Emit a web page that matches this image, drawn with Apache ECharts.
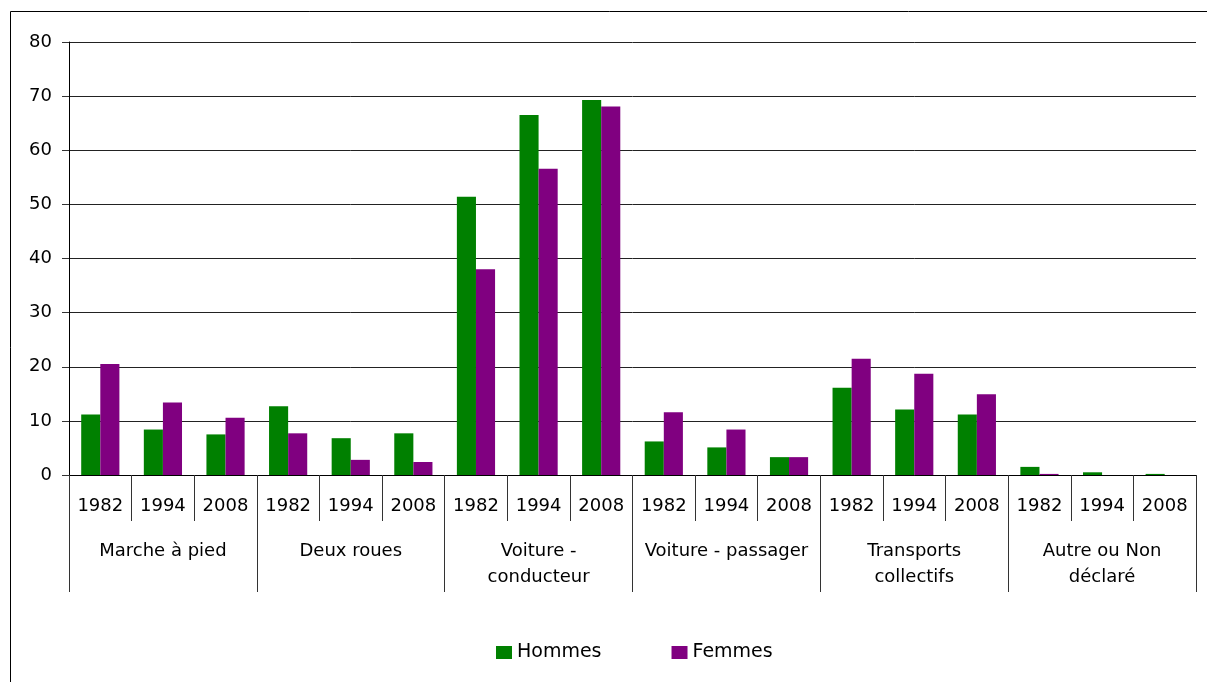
<!DOCTYPE html>
<html>
<head>
<meta charset="utf-8">
<script src="https://cdn.jsdelivr.net/npm/echarts@6/dist/echarts.min.js"></script>
<style>
  html, body { margin: 0; padding: 0; background: #fff; }
  #chart { width: 1207px; height: 682px; }
</style>
</head>
<body>
<div id="chart"></div>
<script>
// Modes de déplacement, par sexe et par année d'enquête (%)
const groups = ['Marche à pied', 'Deux roues', 'Voiture -\nconducteur', 'Voiture - passager', 'Transports\ncollectifs', 'Autre ou Non\ndéclaré'];
const years = ['1982', '1994', '2008'];
const yearLabels = groups.flatMap(() => years);

const hommes = [11.2, 8.4, 7.5, 12.7, 6.8, 7.7, 51.4, 66.5, 69.3, 6.2, 5.1, 3.3, 16.1, 12.1, 11.2, 1.5, 0.5, 0.2];
const femmes = [20.5, 13.4, 10.6, 7.7, 2.8, 2.4, 38.0, 56.6, 68.1, 11.6, 8.4, 3.3, 21.5, 18.7, 14.9, 0.2, 0, 0];

const yTicks = { min: 0, max: 80, interval: 10 };

const font = 'DejaVu Sans';
const chart = echarts.init(document.getElementById('chart'), null, { renderer: 'canvas' });

chart.setOption({
  animation: false,
  backgroundColor: '#fff',
  textStyle: { fontFamily: font, color: '#000' },
  graphic: [{
    type: 'rect',
    shape: { x: 10.5, y: 11.5, width: 1300, height: 700 },
    style: { fill: 'none', stroke: '#000', lineWidth: 1 },
    silent: true
  }],
  grid: { left: 69, right: 11, top: 42, bottom: 207, containLabel: false },
  legend: {
    left: 491,
    top: 638,
    itemWidth: 16,
    itemHeight: 13,
    itemGap: 70,
    icon: 'rect',
    textStyle: { fontFamily: font, fontSize: 19, color: '#000' },
    data: ['Hommes', 'Femmes']
  },
  xAxis: [{
    type: 'category',
    position: 'bottom',
    data: yearLabels,
    boundaryGap: true,
    axisLine: { show: true, lineStyle: { color: '#000', width: 1 } },
    axisTick: { show: true, interval: 0, length: 46, lineStyle: { color: '#333' } },
    axisLabel: { interval: 0, margin: 22, fontFamily: font, fontSize: 18, color: '#000' },
    splitLine: { show: false }
  }, {
    type: 'category',
    position: 'bottom',
    data: groups,
    boundaryGap: true,
    axisLine: { show: false },
    axisTick: { show: true, interval: 0, length: 117, lineStyle: { color: '#333' } },
    axisLabel: { interval: 0, margin: 63, fontFamily: font, fontSize: 18, lineHeight: 26, color: '#000', align: 'center' },
    splitLine: { show: false }
  }],
  yAxis: {
    type: 'value',
    min: yTicks.min,
    max: yTicks.max,
    interval: yTicks.interval,
    axisLine: { show: true, lineStyle: { color: '#000', width: 1 } },
    axisTick: { show: true, length: 7, lineStyle: { color: '#333' } },
    axisLabel: { margin: 17, fontFamily: font, fontSize: 18, color: '#000' },
    splitLine: { show: true, lineStyle: { color: '#222', width: 1 } }
  },
  series: [{
    name: 'Hommes',
    type: 'bar',
    xAxisIndex: 0,
    data: hommes,
    barGap: '0%',
    barCategoryGap: '39%',
    itemStyle: { color: '#008000' }
  }, {
    name: 'Femmes',
    type: 'bar',
    xAxisIndex: 0,
    data: femmes,
    barGap: '0%',
    barCategoryGap: '39%',
    itemStyle: { color: '#800080' }
  }]
});
</script>
</body>
</html>
